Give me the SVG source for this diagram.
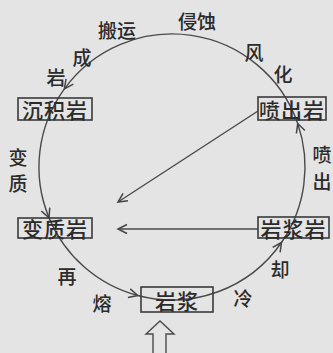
<svg xmlns="http://www.w3.org/2000/svg" width="333" height="353" viewBox="0 0 333 353">
<defs>
<marker id="ah" markerUnits="userSpaceOnUse" markerWidth="13" markerHeight="13" refX="10" refY="6" orient="auto">
<path d="M1,1.5 L10,6 L1,10.5" fill="none" stroke="#444" stroke-width="1.5"/>
</marker>
<style>
.bg{fill:#e4e4e4}
.ln{fill:none;stroke:#4a4a4a;stroke-width:1.4}
.box{fill:none;stroke:#3a3a3a;stroke-width:1.6}
.t{font-family:"Noto Sans CJK SC","Noto Sans",sans-serif;fill:#2b2b2b;text-anchor:middle;dominant-baseline:central;font-weight:500}
.lb{font-size:19px}
.bt{font-size:21px;letter-spacing:1px}
</style>
</defs>
<rect class="bg" x="0" y="0" width="333" height="353"/>
<g id="connectors">
<path class="ln" marker-end="url(#ah)" d="M297.7,123.5 A133,133 0 0 0 64.4,88.8"/>
<path class="ln" marker-end="url(#ah)" d="M64.4,88.8 A133,133 0 0 0 49,217.7"/>
<path class="ln" marker-end="url(#ah)" d="M49,217.7 A133,133 0 0 0 137.8,295.5"/>
<path class="ln" marker-end="url(#ah)" d="M137.8,295.5 A133,133 0 0 0 281.5,242.5"/>
<path class="ln" marker-end="url(#ah)" d="M281.5,242.5 A133,133 0 0 0 297.7,123.5"/>
<path class="ln" marker-end="url(#ah)" d="M258,111 L118,202"/>
<path class="ln" marker-end="url(#ah)" d="M258,229 L118,229"/>
<path class="ln" d="M153,353 L153,334 L146,334 L160,321 L174,334 L166,334 L166,353"/>
</g>
<g id="labels">
<text class="t lb" x="117" y="29">搬运</text>
<text class="t lb" x="197" y="20">侵蚀</text>
<text class="t lb" x="82" y="56">成</text>
<text class="t lb" x="56" y="76">岩</text>
<text class="t lb" x="254" y="51">风</text>
<text class="t lb" x="283" y="73">化</text>
<text class="t lb" x="18" y="156">变</text>
<text class="t lb" x="18" y="182">质</text>
<text class="t lb" x="322" y="153">喷</text>
<text class="t lb" x="322" y="180">出</text>
<text class="t lb" x="67" y="275">再</text>
<text class="t lb" x="102" y="302">熔</text>
<text class="t lb" x="280" y="268">却</text>
<text class="t lb" x="243" y="297">冷</text>
</g>
<g id="n-sedimentary">
<rect class="box" x="18" y="98" width="74" height="22"/>
<text class="t bt" x="55" y="109">沉积岩</text>
</g>
<g id="n-extrusive">
<rect class="box" x="258" y="97" width="68" height="23"/>
<text class="t bt" x="292" y="108.5">喷出岩</text>
</g>
<g id="n-metamorphic">
<rect class="box" x="18" y="218" width="74" height="20"/>
<text class="t bt" x="55" y="228">变质岩</text>
</g>
<g id="n-igneous">
<rect class="box" x="258" y="217" width="71" height="21"/>
<text class="t bt" x="293.5" y="227.5">岩浆岩</text>
</g>
<g id="n-magma">
<rect class="box" x="141" y="287" width="72" height="25"/>
<text class="t bt" x="177" y="299.5">岩浆</text>
</g>
</svg>
